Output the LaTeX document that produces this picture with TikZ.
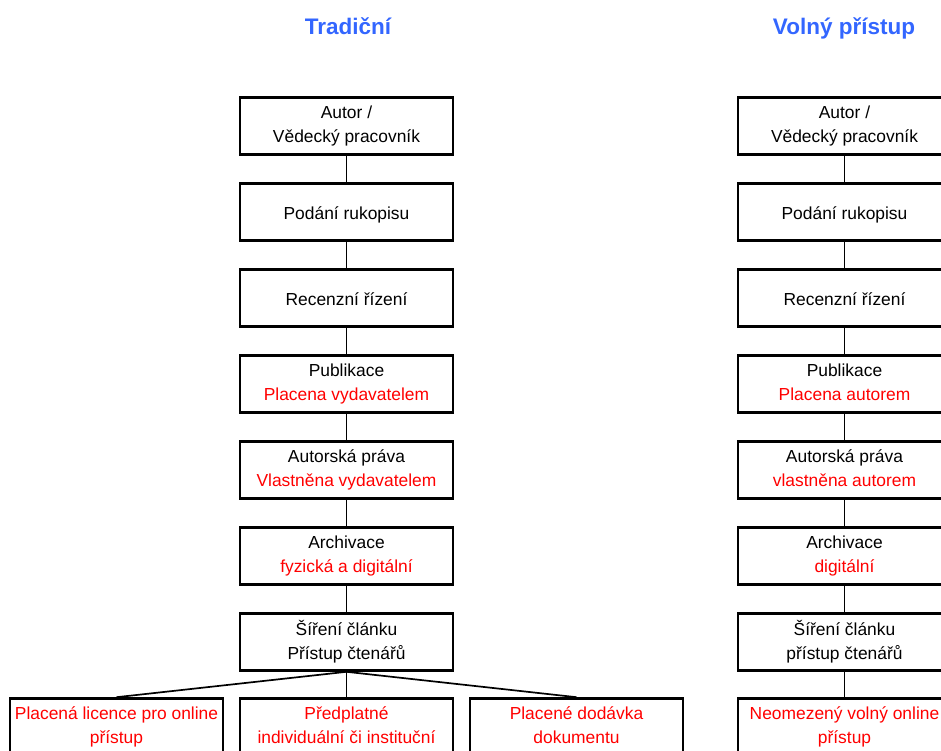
\documentclass[tikz,border=0pt]{standalone}
\usepackage{fontspec}
\setmainfont{Liberation Sans}
\definecolor{titleblue}{RGB}{51,102,255}
\newcommand{\boxstrut}{\rule[-4.4bp]{0pt}{24.4bp}}
\begin{document}
\begin{tikzpicture}[x=1bp,y=-1bp,
  box/.style={draw=black,line width=2.6bp,minimum width=213bp,minimum height=57bp,
    inner sep=0pt,align=center,font=\fontsize{17.4bp}{24bp}\selectfont,
    execute at begin node=\boxstrut,execute at end node=\boxstrut},
  conn/.style={draw=black,line width=1.7bp},
  ttl/.style={text=titleblue,anchor=base,font=\fontsize{22.5bp}{24bp}\selectfont\bfseries}]
\useasboundingbox (0,0) rectangle (941,751);
\clip (0,0) rectangle (941,751);
\node[ttl] (tL) at (348,35) {Tradiční};
\node[ttl] (tR) at (844,35) {Volný přístup};
% left column
\node[box] (a1) at (346.5,126) {Autor /\\Vědecký pracovník};
\node[box] (a2) at (346.5,212) {Podání rukopisu};
\node[box] (a3) at (346.5,298) {Recenzní řízení};
\node[box] (a4) at (346.5,384) {Publikace\\\textcolor{red}{Placena vydavatelem}};
\node[box] (a5) at (346.5,470) {Autorská práva\\\textcolor{red}{Vlastněna vydavatelem}};
\node[box] (a6) at (346.5,556) {Archivace\\\textcolor{red}{fyzická a digitální}};
\node[box] (a7) at (346.5,642) {Šíření článku\\Přístup čtenářů};
\node[box] (c1) at (116.5,727) {\textcolor{red}{Placená licence pro online}\\\textcolor{red}{přístup}};
\node[box] (c2) at (346.5,727) {\textcolor{red}{Předplatné}\\\textcolor{red}{individuální či instituční}};
\node[box] (c3) at (576.5,727) {\textcolor{red}{Placené dodávka}\\\textcolor{red}{dokumentu}};
% right column
\node[box] (b1) at (844.5,126) {Autor /\\Vědecký pracovník};
\node[box] (b2) at (844.5,212) {Podání rukopisu};
\node[box] (b3) at (844.5,298) {Recenzní řízení};
\node[box] (b4) at (844.5,384) {Publikace\\\textcolor{red}{Placena autorem}};
\node[box] (b5) at (844.5,470) {Autorská práva\\\textcolor{red}{vlastněna autorem}};
\node[box] (b6) at (844.5,556) {Archivace\\\textcolor{red}{digitální}};
\node[box] (b7) at (844.5,642) {Šíření článku\\přístup čtenářů};
\node[box] (d1) at (844.5,727) {\textcolor{red}{Neomezený volný online}\\\textcolor{red}{přístup}};
% connectors
\foreach \u/\v in {a1/a2,a2/a3,a3/a4,a4/a5,a5/a6,a6/a7,a7/c2,b1/b2,b2/b3,b3/b4,b4/b5,b5/b6,b6/b7,b7/d1}
  \draw[conn] (\u.south) -- (\v.north);
\draw[conn] (a7.south) -- (c1.north);
\draw[conn] (a7.south) -- (c3.north);
\end{tikzpicture}
\end{document}
